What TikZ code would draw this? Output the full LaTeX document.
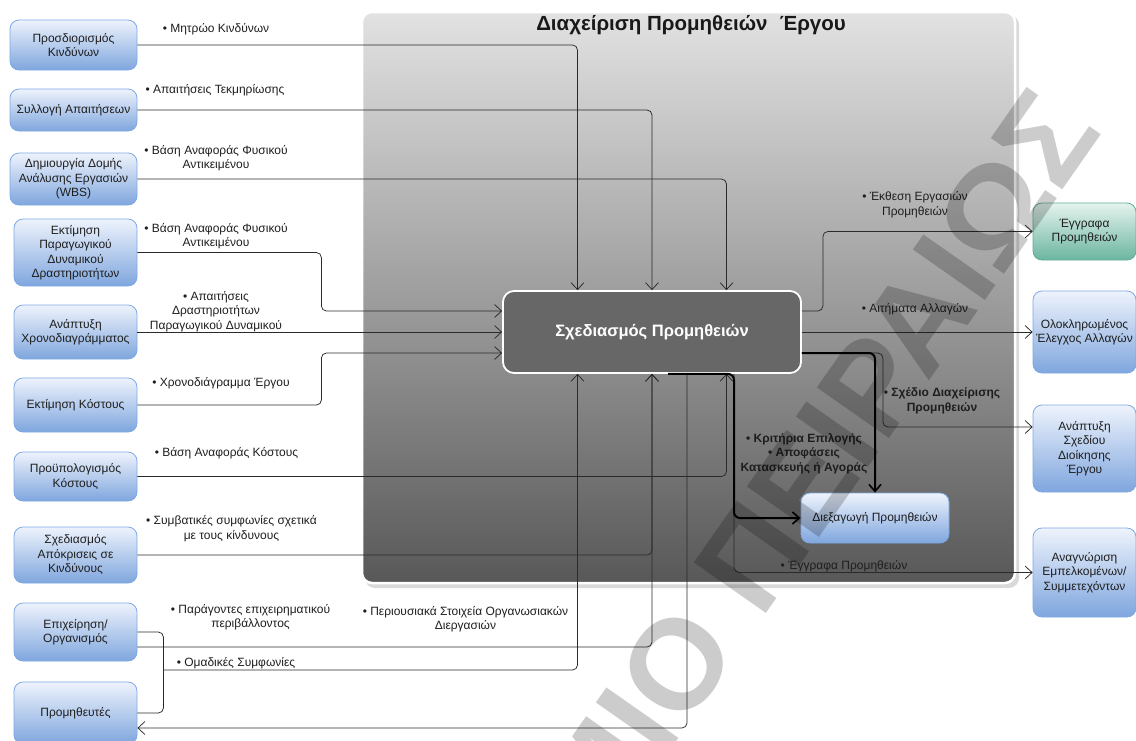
\documentclass[tikz,border=0pt]{standalone}
\usepackage{fontspec}
\setmainfont{Liberation Sans}
\usetikzlibrary{arrows.meta,calc}

\definecolor{boxtop}{HTML}{EEF3FC}
\definecolor{boxbot}{HTML}{7FA6DE}
\definecolor{boxline}{HTML}{7EA8E4}
\definecolor{tealtop}{HTML}{E4F3EE}
\definecolor{tealbot}{HTML}{6CB5A0}
\definecolor{tealline}{HTML}{5FAE96}
\definecolor{areatop}{HTML}{E2E2E2}
\definecolor{areabot}{HTML}{585858}
\definecolor{plangray}{HTML}{676767}
\definecolor{txt}{HTML}{1E1E1E}
\definecolor{wire}{HTML}{2A2A2A}

\begin{document}
\begin{tikzpicture}[x=1pt,y=-1pt,
  box/.style={draw=boxline, line width=0.8pt, rounded corners=9pt,
    top color=boxtop, bottom color=boxbot, align=center, text=txt,
    font=\fontsize{12}{14.5}\selectfont, inner sep=2pt},
  tealbox/.style={box, draw=tealline, top color=tealtop, bottom color=tealbot},
  lbl/.style={align=center, text=txt, font=\fontsize{12}{14.5}\selectfont, inner sep=0pt},
  blbl/.style={lbl, font=\fontsize{12}{14.5}\selectfont\bfseries},
  conn/.style={draw=wire, line width=0.75pt, rounded corners=5pt},
  flow/.style={conn, -{Straight Barb[length=7pt,width=13pt,line width=0.75pt]}},
  heavy/.style={draw=black, line width=2pt, rounded corners=6pt,
    -{Straight Barb[length=7pt,width=12pt,line width=1.6pt]}},
]
\useasboundingbox (0,0) rectangle (1136,740);
\clip (0,0) rectangle (1136,740);

% process frame
\fill[black, opacity=0.15, rounded corners=10pt] (365,15) rectangle (1019,588);
\node[draw=white, line width=2.5pt, rounded corners=10pt, top color=areatop,
  bottom color=areabot, minimum width=653, minimum height=571, inner sep=0pt]
  (area) at (688.5,297.5) {};
\node[font=\fontsize{20.5}{22}\selectfont\bfseries, text=black!90] (title)
  at (691,25) {Διαχείριση Προμηθειών\hspace{0.6em}Έργου};

% central process
\node[draw=white, line width=1.8pt, fill=plangray, rounded corners=11pt,
  minimum width=298, minimum height=82, text=white,
  font=\fontsize{16.5}{19}\selectfont\bfseries] (plan) at (652,332) {Σχεδιασμός Προμηθειών};
\node[box, minimum width=148, minimum height=50] (conduct) at (875,518) {Διεξαγωγή Προμηθειών};

% input processes
\node[box, minimum width=127, minimum height=50] (b1) at (73.5,45) {Προσδιορισμός\\Κινδύνων};
\node[box, minimum width=127, minimum height=42] (b2) at (73.5,110) {Συλλογή Απαιτήσεων};
\node[box, minimum width=127, minimum height=52] (b3) at (73.5,179) {Δημιουργία Δομής\\Ανάλυσης Εργασιών\\(WBS)};
\node[box, minimum width=123, minimum height=67] (b4) at (75.5,252.5) {Εκτίμηση\\Παραγωγικού\\Δυναμικού\\Δραστηριοτήτων};
\node[box, minimum width=123, minimum height=54] (b5) at (75.5,332) {Ανάπτυξη\\Χρονοδιαγράμματος};
\node[box, minimum width=123, minimum height=54] (b6) at (75.5,405) {Εκτίμηση Κόστους};
\node[box, minimum width=123, minimum height=49] (b7) at (75.5,476.5) {Προϋπολογισμός\\Κόστους};
\node[box, minimum width=123, minimum height=56] (b8) at (75.5,555) {Σχεδιασμός\\Απόκρισεις σε\\Κινδύνους};
\node[box, minimum width=123, minimum height=58] (b9) at (75.5,632) {Επιχείρηση/\\Οργανισμός};
\node[box, minimum width=123, minimum height=62] (b10) at (75.5,713) {Προμηθευτές};

% output processes
\node[tealbox, minimum width=103, minimum height=57] (r1) at (1084.5,231.5) {Έγγραφα\\Προμηθειών};
\node[box, minimum width=103, minimum height=82] (r2) at (1084.5,332) {Ολοκληρωμένος\\Έλεγχος Αλλαγών};
\node[box, minimum width=103, minimum height=87] (r3) at (1084.5,448.5) {Ανάπτυξη\\Σχεδίου\\Διοίκησης\\Έργου};
\node[box, minimum width=103, minimum height=89] (r4) at (1084.5,572.5) {Αναγνώριση\\Εμπελκομένων/\\Συμμετεχόντων};

% inputs from above
\draw[flow] (b1.east) -| ([xshift=-74.5pt]plan.north);
\draw[flow] (b2.east) -| (plan.north);
\draw[flow] (b3.east) -| ([xshift=74.5pt]plan.north);

% inputs from the left
\draw[flow] (b4.east) -- ++(184,0) |- ([yshift=21pt]plan.west);
\draw[flow] (b5.east) -- (plan.west);
\draw[flow] (b6.east) -- ++(184,0) |- ([yshift=-21pt]plan.west);

% inputs from below
\draw[flow] (b7.east) -| ([xshift=74.5pt]plan.south);
\draw[flow] (b8.east) -| (plan.south);
\draw[flow] ([yshift=-15pt]b9.east) -| (plan.south);
\draw[conn] (b9.east) -- ++(26,0) |- (b10.east);
\coordinate (tap) at (163,670);
\draw[flow] (tap) -| ([xshift=-74.5pt]plan.south);
\draw[flow] ([xshift=35pt]plan.south) |- ([yshift=-15pt]b10.east);

% outputs
\draw[flow] ([yshift=21pt]plan.east) -- ++(21,0) |- (r1.west);
\draw[flow] (plan.east) -- (r2.west);
\draw[flow] ([yshift=-21pt]plan.east) -- ++(81,0) |- ([yshift=21.5pt]r3.west);
\draw[flow] ([xshift=82pt]plan.south) |- (r4.west);
\draw[heavy] ([xshift=16pt]plan.south) -- ([xshift=82pt]plan.south) |- (conduct.west);
\draw[heavy] ([yshift=-21pt]plan.east) -| (conduct.north);

% data labels
\node[lbl] (l1) at (216,29) {• Μητρώο Κινδύνων};
\node[lbl] (l2) at (215,90) {• Απαιτήσεις Τεκμηρίωσης};
\node[lbl] (l3) at (216,158) {• Βάση Αναφοράς Φυσικού\\Αντικειμένου};
\node[lbl] (l4) at (216,236) {• Βάση Αναφοράς Φυσικού\\Αντικειμένου};
\node[lbl] (l5) at (216,311.5) {• Απαιτήσεις\\Δραστηριοτήτων\\Παραγωγικού Δυναμικού};
\node[lbl] (l6) at (221,383) {• Χρονοδιάγραμμα Έργου};
\node[lbl] (l7) at (226.5,453) {• Βάση Αναφοράς Κόστους};
\node[lbl] (l8) at (231.5,528.5) {• Συμβατικές συμφωνίες σχετικά\\με τους κίνδυνους};
\node[lbl] (l9) at (250.5,617) {• Παράγοντες επιχειρηματικού\\περιβάλλοντος};
\node[lbl] (l10) at (465.5,619) {• Περιουσιακά Στοιχεία Οργανωσιακών\\Διεργασιών};
\node[lbl] (l11) at (236,663) {• Ομαδικές Συμφωνίες};
\node[lbl] (l12) at (915,204.5) {• Έκθεση Εργασιών\\Προμηθειών};
\node[lbl] (l13) at (915,309) {• Αιτήματα Αλλαγών};
\node[blbl] (l14) at (942,401) {• Σχέδιο Διαχείρισης\\Προμηθειών};
\node[blbl] (l15) at (804,453.5) {• Κριτήρια Επιλογής\\• Αποφάσεις\\Κατασκευής ή Αγοράς};
\node[lbl] (l16) at (844,566) {• Έγγραφα Προμηθειών};

% watermark
\node[rotate=55, anchor=east, inner sep=0pt, text=black, text opacity=0.2,
  font=\fontsize{128}{128}\selectfont\bfseries] (wm) at (1068,106) {ΠΑΝΕΠΙΣΤΗΜΙΟ ΠΕΙΡΑΙΩΣ};
\end{tikzpicture}
\end{document}
